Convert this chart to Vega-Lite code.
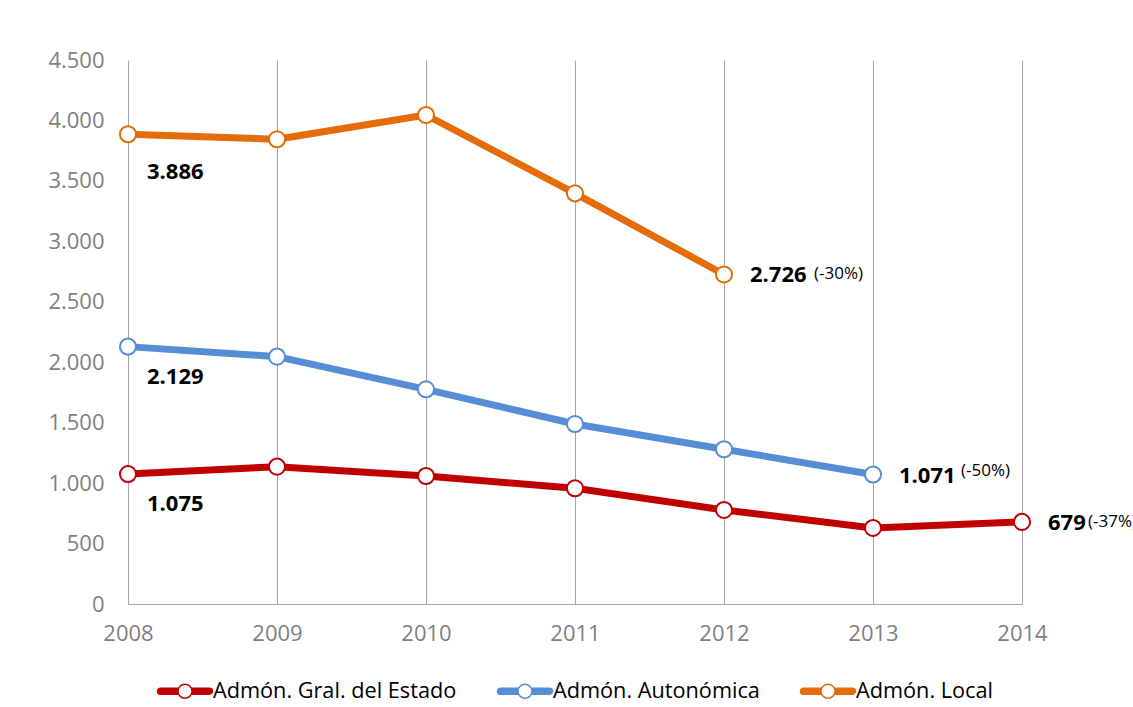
{
  "$schema": "https://vega.github.io/schema/vega-lite/v6.json",
  "width": 894,
  "height": 544,
  "autosize": "none",
  "padding": {"left": 128, "top": 60, "right": 111, "bottom": 103},
  "background": "white",
  "config": {
    "locale": {"number": {"decimal": ",", "thousands": ".", "grouping": [3], "currency": ["", " €"]}},
    "view": {"stroke": null},
    "font": "Open Sans"
  },
  "data": {
    "values": [
      {"series": "Admón. Gral. del Estado", "year": 2008, "value": 1075},
      {"series": "Admón. Gral. del Estado", "year": 2009, "value": 1136},
      {"series": "Admón. Gral. del Estado", "year": 2010, "value": 1059},
      {"series": "Admón. Gral. del Estado", "year": 2011, "value": 957},
      {"series": "Admón. Gral. del Estado", "year": 2012, "value": 778},
      {"series": "Admón. Gral. del Estado", "year": 2013, "value": 629},
      {"series": "Admón. Gral. del Estado", "year": 2014, "value": 679, "pct": "(-37%)"},
      {"series": "Admón. Autonómica", "year": 2008, "value": 2129},
      {"series": "Admón. Autonómica", "year": 2009, "value": 2046},
      {"series": "Admón. Autonómica", "year": 2010, "value": 1776},
      {"series": "Admón. Autonómica", "year": 2011, "value": 1489},
      {"series": "Admón. Autonómica", "year": 2012, "value": 1280},
      {"series": "Admón. Autonómica", "year": 2013, "value": 1071, "pct": "(-50%)"},
      {"series": "Admón.  Local", "year": 2008, "value": 3886},
      {"series": "Admón.  Local", "year": 2009, "value": 3844},
      {"series": "Admón.  Local", "year": 2010, "value": 4045},
      {"series": "Admón.  Local", "year": 2011, "value": 3397},
      {"series": "Admón.  Local", "year": 2012, "value": 2726, "pct": "(-30%)"}
    ]
  },
  "encoding": {
    "x": {
      "field": "year", "type": "quantitative",
      "scale": {"domain": [2008, 2014], "nice": false, "zero": false},
      "axis": {
        "values": [2008, 2009, 2010, 2011, 2012, 2013, 2014], "format": "d", "title": null,
        "grid": true, "gridColor": "#a6a6a6", "gridWidth": 1,
        "domainColor": "#a6a6a6", "ticks": false, "labelFlush": false,
        "labelFont": "Open Sans", "labelFontSize": 22, "labelColor": "#7f7f7f", "labelPadding": 19
      }
    },
    "y": {
      "field": "value", "type": "quantitative",
      "scale": {"domain": [0, 4500], "nice": false},
      "axis": {
        "values": [0, 500, 1000, 1500, 2000, 2500, 3000, 3500, 4000, 4500], "format": ",d", "title": null,
        "grid": false, "domain": false, "ticks": false,
        "labelFont": "Open Sans", "labelFontSize": 22, "labelColor": "#7f7f7f", "labelPadding": 24
      }
    }
  },
  "layer": [
    {
      "mark": {"type": "line", "strokeWidth": 7, "strokeJoin": "round", "strokeCap": "round"},
      "encoding": {
        "stroke": {
          "field": "series", "type": "nominal",
          "scale": {"domain": ["Admón. Gral. del Estado", "Admón. Autonómica", "Admón.  Local"], "range": ["#c00000", "#558ed5", "#e46c0a"]},
          "legend": {
            "orient": "none", "legendX": 30, "legendY": 604, "direction": "horizontal", "title": null,
            "symbolType": "M-0.942,-0.115H0.942A0.115,0.115,0,0,1,0.942,0.115H-0.942A0.115,0.115,0,0,1,-0.942,-0.115Z",
            "symbolSize": 2704, "symbolStrokeWidth": 1.5,
            "labelFont": "Open Sans", "labelFontSize": 21.7, "labelColor": "black", "labelOffset": 1,
            "columnPadding": 37, "padding": 0, "labelLimit": 400,
            "encode": {"symbols": {"update": {"fill": {"scale": "stroke", "field": "value"}, "fillOpacity": {"value": 1}, "opacity": {"value": 1}}}}
          }
        }
      }
    },
    {
      "mark": {"type": "point", "filled": false, "fill": "white", "fillOpacity": 1, "strokeWidth": 2, "size": 260, "opacity": 1},
      "encoding": {
        "stroke": {
          "field": "series", "type": "nominal",
          "scale": {"domain": ["Admón. Gral. del Estado", "Admón. Autonómica", "Admón.  Local"], "range": ["#c00000", "#558ed5", "#e46c0a"]},
          "legend": {
            "orient": "none", "legendX": 30, "legendY": 604, "direction": "horizontal", "title": null,
            "symbolType": "M-1.05,0H-0.3M0.3,0H1.05M-0.27,0A0.27,0.27,0,1,0,0.27,0A0.27,0.27,0,1,0,-0.27,0Z",
            "symbolSize": 2704, "symbolStrokeWidth": 1.5, "symbolFillColor": "white",
            "labelFont": "Open Sans", "labelFontSize": 21.7, "labelColor": "black", "labelOffset": 1, "labelOpacity": 0,
            "columnPadding": 37, "padding": 0, "labelLimit": 400,
            "encode": {"symbols": {"update": {"fill": {"value": "white"}, "fillOpacity": {"value": 1}, "opacity": {"value": 1}}}}
          }
        }
      }
    },
    {
      "transform": [{"filter": "datum.year == 2008 && datum.series != 'Admón.  Local'"}],
      "mark": {"type": "text", "align": "left", "baseline": "middle", "dx": 19, "dy": 30, "fontWeight": "bold", "fontSize": 22, "font": "Open Sans", "color": "black"},
      "encoding": {"text": {"field": "value", "type": "quantitative", "format": ",d"}}
    },
    {
      "transform": [{"filter": "datum.year == 2008 && datum.series == 'Admón.  Local'"}],
      "mark": {"type": "text", "align": "left", "baseline": "middle", "dx": 19, "dy": 38, "fontWeight": "bold", "fontSize": 22, "font": "Open Sans", "color": "black"},
      "encoding": {"text": {"field": "value", "type": "quantitative", "format": ",d"}}
    },
    {
      "transform": [{"filter": "datum.pct"}],
      "mark": {"type": "text", "align": "left", "baseline": "middle", "dx": 26, "dy": 1, "fontWeight": "bold", "fontSize": 22, "font": "Open Sans", "color": "black"},
      "encoding": {"text": {"field": "value", "type": "quantitative", "format": ",d"}}
    },
    {
      "transform": [{"filter": "datum.pct && datum.year == 2012"}],
      "mark": {"type": "text", "align": "left", "baseline": "middle", "dx": 90, "dy": 0, "fontSize": 17, "font": "Open Sans", "color": "black"},
      "encoding": {"text": {"field": "pct", "type": "nominal"}}
    },
    {
      "transform": [{"filter": "datum.pct && datum.year == 2013"}],
      "mark": {"type": "text", "align": "left", "baseline": "middle", "dx": 88, "dy": -4, "fontSize": 17, "font": "Open Sans", "color": "black"},
      "encoding": {"text": {"field": "pct", "type": "nominal"}}
    },
    {
      "transform": [{"filter": "datum.pct && datum.year == 2014"}],
      "mark": {"type": "text", "align": "left", "baseline": "middle", "dx": 66, "dy": 0, "fontSize": 17, "font": "Open Sans", "color": "black"},
      "encoding": {"text": {"field": "pct", "type": "nominal"}}
    }
  ],
  "resolve": {"legend": {"stroke": "independent"}}
}
